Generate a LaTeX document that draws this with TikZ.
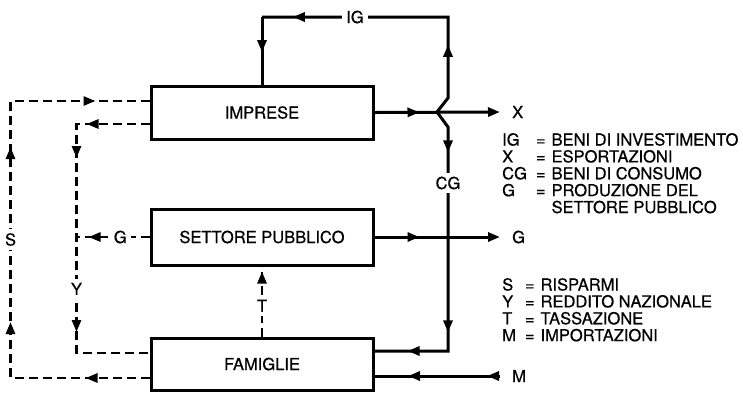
\documentclass[tikz,border=0pt]{standalone}
\usepackage{fontspec}
\setmainfont{TeX Gyre Heros}[FakeBold=0.6]
\usetikzlibrary{arrows.meta, positioning, decorations.markings}

\begin{document}
\begin{tikzpicture}[x=1pt, y=-1pt,
        font=\fontsize{16.5}{15.2}\selectfont,
        box/.style={draw, rectangle, line width=3pt, minimum width=222pt, align=center},
        conn/.style={line width=3pt},
        dconn/.style={line width=2.7pt, dash pattern=on 9pt off 5pt},
        flow/.style={postaction={decorate, decoration={markings, mark=at position #1 with {\arrow{Triangle[length=12pt, width=9pt]}}}}},
        endarrow/.style={-{Triangle[length=12pt, width=9pt]}},
        lab/.style={inner sep=4pt, fill=white},
        endlab/.style={anchor=west, inner xsep=12pt, inner ysep=4pt}
    ]
        \useasboundingbox (0,0) rectangle (743,392);

        % Settori
        \node[box, minimum height=53pt] (impr) at (262,112.5) {IMPRESE};
        \node[box, minimum height=56pt] (sett) at (262,237) {SETTORE PUBBLICO};
        \node[box, minimum height=52pt] (fam) at (262,364) {FAMIGLIE};

        % Etichette a destra
        \node[endlab] (xlab) at (500,112) {X};
        \node[endlab] (glab) at (500,237) {G};
        \node[endlab] (mlab) at (500,376) {M};

        % Flussi reali
        \coordinate (split) at (437,112);
        \coordinate (igtop) at (448,17);
        \coordinate (igcorner) at (igtop -| impr.north);
        \draw[conn, flow=71pt, flow=254pt] (split) -- ++(11,-14) -- (igtop) -- node[lab] (ig) {IG} (igcorner);
        \draw[conn, flow=0.52] (igcorner) -- (impr.north);
        \draw[conn, flow=44pt, flow=224pt, flow=283pt] (split) -- ++(11,15) -- node[lab, pos=0.25] (cg) {CG} ++(0,224) -- ([yshift=13pt]fam.east);
        \draw[conn, endarrow, flow=45pt] (impr.east) -- (xlab.west);
        \draw[conn, endarrow, flow=45pt] (sett.east) -- (glab.west);
        \draw[conn, flow=13pt, flow=92pt] (mlab.west) -- (fam.east |- mlab.west);

        % Flussi monetari
        \draw[dconn, flow=64pt, flow=195pt, flow=370pt, flow=501pt] ([yshift=-14pt]fam.west) -| node[lab, pos=0.75] (s) {S} ++(-139,-277) -- ([yshift=11.5pt]impr.west);
        \draw[dconn, flow=63pt, flow=107pt, flow=281pt] ([yshift=-11.5pt]impr.west) -- ++(-73,0) -- node[lab, pos=0.72] (y) {Y} ++(0,229) -- ([yshift=11pt]fam.west);
        \draw[dconn, flow=61pt] (sett.west) -- node[lab, pos=0.4] (g) {G} ++(-73,0);
        \draw[dconn, flow=65pt] (fam.north) -- node[lab, pos=0.44] (t) {T} (sett.south);

        % Legenda
        \node[anchor=base west, inner sep=0] (leg1) at (502,145.5) {\begin{tabular}[t]{@{}l@{\hspace{9pt}}c@{\hspace{6pt}}l@{}}
            IG & = & BENI DI INVESTIMENTO\\
            X & = & ESPORTAZIONI\\
            CG & = & BENI DI CONSUMO\\
            G & = & PRODUZIONE DEL\\
             & & SETTORE PUBBLICO
        \end{tabular}};
        \node[anchor=base west, inner sep=0] (leg2) at (502,290.5) {\begin{tabular}[t]{@{}l@{\hspace{9pt}}c@{\hspace{6pt}}l@{}}
            S & = & RISPARMI\\
            Y & = & REDDITO NAZIONALE\\
            T & = & TASSAZIONE\\
            M & = & IMPORTAZIONI
        \end{tabular}};
    \end{tikzpicture}
\end{document}
